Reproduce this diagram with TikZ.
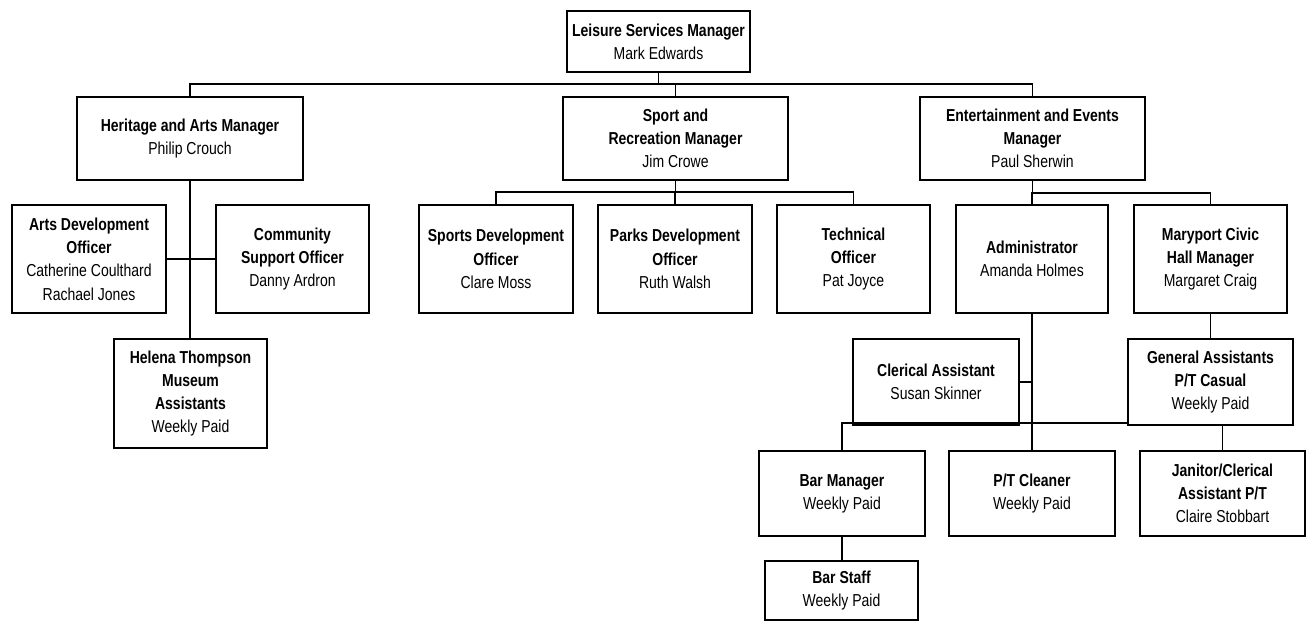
\documentclass[tikz,border=0pt]{standalone}
\usepackage{fontspec}
\setmainfont{Liberation Sans}[FakeStretch=0.81]
\begin{document}
\begin{tikzpicture}[x=1pt,y=-1pt,
  box/.style={draw=black, line width=1.7pt, fill=white, inner sep=0pt, align=center,
    font=\fontsize{17.3}{23.3}\selectfont},
  conn/.style={draw=black, line width=1.7pt}]
\useasboundingbox (0,0) rectangle (1306,621);

% level 0
\node[box, minimum width=183pt, minimum height=61pt] (lsm) at (658.5,41.5) {\textbf{Leisure Services Manager}\\Mark Edwards};

% level 1
\node[box, minimum width=226pt, minimum height=83pt] (ham) at (190,138.5) {\textbf{Heritage and Arts Manager}\\Philip Crouch};
\node[box, minimum width=225pt, minimum height=83pt] (srm) at (675.5,138.5) {\textbf{Sport and}\\\textbf{Recreation Manager}\\Jim Crowe};
\node[box, minimum width=225pt, minimum height=83pt] (eem) at (1032.5,138.5) {\textbf{Entertainment and Events}\\\textbf{Manager}\\Paul Sherwin};

% level 2
\node[box, minimum width=154pt, minimum height=108pt] (ado) at (89,259) {\textbf{Arts Development}\\\textbf{Officer}\\Catherine Coulthard\\Rachael Jones};
\node[box, minimum width=153pt, minimum height=108pt] (cso) at (292.5,259) {\textbf{Community}\\\textbf{Support Officer}\\Danny Ardron};
\node[box, minimum width=153pt, minimum height=109pt] (htm) at (190.5,393.5) {\textbf{Helena Thompson}\\\textbf{Museum}\\\textbf{Assistants}\\Weekly Paid};

\node[box, minimum width=154pt, minimum height=108pt] (sdo) at (496,259) {\textbf{Sports Development}\\\textbf{Officer}\\Clare Moss};
\node[box, minimum width=154pt, minimum height=108pt] (pdo) at (675,259) {\textbf{Parks Development}\\\textbf{Officer}\\Ruth Walsh};
\node[box, minimum width=153pt, minimum height=108pt] (tof) at (853.5,259) {\textbf{Technical}\\\textbf{Officer}\\Pat Joyce};

\node[box, minimum width=152pt, minimum height=108pt] (adm) at (1032,259) {\textbf{Administrator}\\Amanda Holmes};
\node[box, minimum width=153pt, minimum height=108pt] (mcm) at (1210.5,259) {\textbf{Maryport Civic}\\\textbf{Hall Manager}\\Margaret Craig};

% level 3
\node[box, minimum width=166pt, minimum height=86pt] (ca) at (936,382) {\textbf{Clerical Assistant}\\Susan Skinner};
\node[box, minimum width=165pt, minimum height=86pt] (ga) at (1210.5,382) {\textbf{General Assistants}\\\textbf{P/T Casual}\\Weekly Paid};

% level 4
\node[box, minimum width=166pt, minimum height=85pt] (bm) at (842,493.5) {\textbf{Bar Manager}\\Weekly Paid};
\node[box, minimum width=166pt, minimum height=85pt] (ptc) at (1032,493.5) {\textbf{P/T Cleaner}\\Weekly Paid};
\node[box, minimum width=165pt, minimum height=85pt] (jan) at (1222.5,493.5) {\textbf{Janitor/Clerical}\\\textbf{Assistant P/T}\\Claire Stobbart};

\node[box, minimum width=153pt, minimum height=59pt] (bs) at (841.5,590.5) {\textbf{Bar Staff}\\Weekly Paid};

% connectors
\draw[conn] (lsm.south) -- (lsm.south |- 0,84);
\draw[conn] (ham.north) -- (ham.north |- 0,84) -- (eem.north |- 0,84) -- (eem.north);
\draw[conn] (srm.north) -- (srm.north |- 0,84);

\draw[conn] (ham.south) -- (ham.south |- htm.north);
\draw[conn] (ado.east) -- (cso.west);

\draw[conn] (srm.south) -- (srm.south |- 0,192);
\draw[conn] (sdo.north) -- (sdo.north |- 0,192) -- (tof.north |- 0,192) -- (tof.north);
\draw[conn] (pdo.north) -- (pdo.north |- 0,192);

\draw[conn] (eem.south) -- (eem.south |- 0,193);
\draw[conn] (adm.north) -- (adm.north |- 0,193) -- (mcm.north |- 0,193) -- (mcm.north);

\draw[conn] (adm.south) -- (ptc.north);
\draw[conn] (ca.east) -- (ca.east -| adm.south);
\draw[conn] (mcm.south) -- (mcm.south |- ga.north);
\draw[conn] (bm.north) -- (bm.north |- 0,423) -- (ga.west |- 0,423);
\draw[conn] (jan.north) -- (jan.north |- ga.south);
\draw[conn] (bm.south) -- (bm.south |- bs.north);
\end{tikzpicture}
\end{document}
